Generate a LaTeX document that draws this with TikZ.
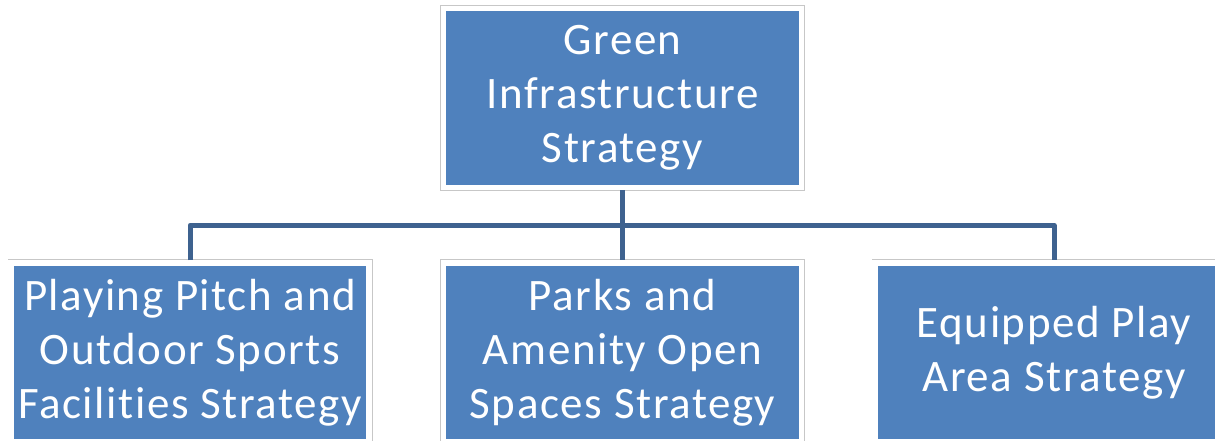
\documentclass[tikz,border=0pt]{standalone}
\usepackage{fontspec}
\setmainfont{Carlito}[LetterSpace=3.5, Ligatures=NoCommon]
\usepackage{tikz}
\usetikzlibrary{positioning, calc}

\definecolor{boxblue}{RGB}{79,129,189}
\definecolor{linkblue}{RGB}{62,98,143}

\begin{document}
\begin{tikzpicture}[x=1pt, y=1pt,
  stratbox/.style={fill=boxblue, draw=white, line width=5.5pt,
    preaction={draw=black!22, line width=7pt},
    minimum width=358pt, minimum height=179pt, inner sep=2pt,
    text=white, align=center, font=\fontsize{45}{54}\selectfont},
  link/.style={draw=linkblue, line width=5pt, line join=round}]
\clip (0,0) rectangle (1215,441);
\useasboundingbox (0,0) rectangle (1215,441);
\node[stratbox] (gis) at (622.5,343) {Green\\Infrastructure\\Strategy};
\node[stratbox] (pitch) at (190,88.5) {Playing Pitch and\\Outdoor Sports\\Facilities Strategy};
\node[stratbox] (parks) at (622.5,88.5) {Parks and\\Amenity Open\\Spaces Strategy};
\node[stratbox] (play) at (1054,88.5) {Equipped Play\\Area Strategy};
\draw[link] (gis.south) -- ++(0,-35) coordinate (hub);
\draw[link] (pitch.north) |- (hub) -| (play.north);
\draw[link] (hub) -- (parks.north);
\end{tikzpicture}
\end{document}
